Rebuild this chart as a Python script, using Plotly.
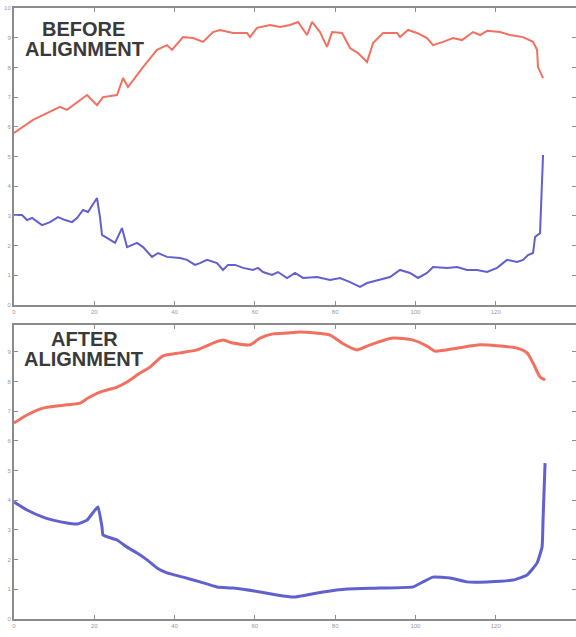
import plotly.graph_objects as go

# ---- data (x in sample index, y in arbitrary units) ----
before_red_x = [0, 4.74, 11.46, 13.20, 18.19, 20.68, 22.17, 25.66, 27.15, 28.40, 32.14, 35.62, 38.11, 39.36,
                42.10, 44.60, 47.09, 49.58, 51.32, 54.56, 58.05, 58.79, 60.54, 63.78, 66.27, 68.76, 70.76,
                73.00, 74.24, 76.24, 77.97, 79.23, 81.72, 83.71, 85.70, 87.94, 89.44, 91.93, 95.42, 96.16,
                98.16, 100.40, 102.89, 104.38, 106.87, 109.37, 111.61, 114.35, 116.10, 117.85, 121.08,
                123.57, 126.81, 129.30, 130.30, 130.54, 131.79]
before_red_y = [5.79, 6.23, 6.67, 6.57, 7.07, 6.73, 7.00, 7.07, 7.64, 7.34, 8.01, 8.59, 8.75, 8.59,
                9.02, 8.99, 8.86, 9.19, 9.26, 9.16, 9.16, 9.02, 9.33, 9.43, 9.36, 9.43, 9.53,
                9.09, 9.53, 9.19, 8.69, 9.19, 9.16, 8.65, 8.48, 8.18, 8.82, 9.16, 9.16, 9.02,
                9.26, 9.16, 8.99, 8.75, 8.86, 8.99, 8.92, 9.19, 9.09, 9.23, 9.19,
                9.09, 9.02, 8.86, 8.59, 8.01, 7.64]

before_blue_x = [0, 2.00, 3.24, 4.49, 6.98, 8.97, 10.96, 12.71, 14.45, 15.70, 17.19, 18.44, 20.68, 21.42,
                 21.92, 23.17, 25.17, 26.90, 28.16, 30.65, 32.14, 34.38, 35.88, 38.11, 41.36, 43.10,
                 45.09, 46.34, 48.08, 50.57, 52.07, 53.31, 55.06, 57.06, 59.54, 60.79, 62.03, 64.27,
                 65.77, 68.02, 70.00, 72.00, 75.49, 78.73, 81.22, 83.71, 86.20, 87.94, 91.18, 93.67,
                 96.16, 98.65, 100.65, 102.89, 104.38, 107.88, 110.37, 112.86, 115.35, 117.85, 120.33,
                 122.82, 125.31, 126.81, 128.05, 129.30, 129.80, 131.04, 131.79]
before_blue_y = [3.03, 3.03, 2.86, 2.93, 2.69, 2.79, 2.96, 2.86, 2.79, 2.93, 3.20, 3.13, 3.60, 2.96,
                 2.36, 2.26, 2.09, 2.59, 1.95, 2.09, 1.95, 1.62, 1.75, 1.62, 1.58, 1.52,
                 1.35, 1.41, 1.52, 1.41, 1.18, 1.35, 1.35, 1.25, 1.18, 1.25, 1.11, 1.01,
                 1.11, 0.91, 1.08, 0.91, 0.94, 0.84, 0.91, 0.77, 0.61, 0.74, 0.84, 0.94,
                 1.18, 1.08, 0.91, 1.08, 1.28, 1.25, 1.28, 1.18, 1.18, 1.11, 1.25,
                 1.52, 1.45, 1.52, 1.68, 1.75, 2.29, 2.42, 5.05]

after_red_x = [0, 3.24, 7.23, 13.20, 16.44, 18.44, 21.42, 25.66, 28.16, 31.39, 33.88, 37.12, 41.36, 45.59,
               49.58, 52.07, 54.56, 58.79, 61.29, 64.52, 68.02, 71.25, 78.73, 81.72, 85.45, 88.70, 94.43,
               99.41, 102.89, 104.89, 110.37, 116.10, 121.08, 125.31, 127.80, 129.30, 131.04, 132.29]
after_red_y = [6.60, 6.87, 7.10, 7.21, 7.27, 7.44, 7.64, 7.81, 7.98, 8.28, 8.48, 8.86, 8.96, 9.06,
               9.29, 9.39, 9.29, 9.23, 9.46, 9.60, 9.63, 9.66, 9.56, 9.29, 9.06, 9.23, 9.46,
               9.39, 9.19, 9.02, 9.12, 9.23, 9.19, 9.12, 8.96, 8.62, 8.15, 8.05]

after_blue_x = [0, 3.24, 7.23, 9.72, 13.20, 15.70, 18.19, 20.18, 20.93, 21.92, 22.17, 25.66, 28.16, 30.65,
                33.14, 35.62, 38.11, 42.10, 46.34, 50.57, 54.56, 61.29, 65.52, 69.51, 71.25, 76.98,
                82.96, 91.18, 99.41, 101.89, 104.38, 108.62, 112.86, 117.85, 124.32, 127.80, 130.30,
                131.54, 131.79, 132.29]
after_blue_y = [3.94, 3.67, 3.43, 3.33, 3.23, 3.20, 3.33, 3.67, 3.77, 3.10, 2.83, 2.66, 2.42, 2.22,
                1.99, 1.72, 1.55, 1.41, 1.25, 1.08, 1.04, 0.91, 0.81, 0.74, 0.77, 0.91,
                1.01, 1.04, 1.08, 1.25, 1.41, 1.38, 1.25, 1.25, 1.31, 1.48, 1.89,
                2.42, 3.33, 5.25]

x_ticks = [0, 20, 40, 60, 80, 100, 120, 140]
y_ticks = [0, 1, 2, 3, 4, 5, 6, 7, 8, 9, 10]

RED = "rgb(242,112,96)"
BLUE = "rgb(96,96,206)"
FRAME = "#8c8c8c"

fig = go.Figure()
fig.add_trace(go.Scatter(x=before_red_x, y=before_red_y, mode="lines", line=dict(color=RED, width=2),
                         xaxis="x", yaxis="y"))
fig.add_trace(go.Scatter(x=before_blue_x, y=before_blue_y, mode="lines", line=dict(color=BLUE, width=2),
                         xaxis="x", yaxis="y"))
fig.add_trace(go.Scatter(x=after_red_x, y=after_red_y, mode="lines",
                         line=dict(color=RED, width=3, shape="spline", smoothing=0.6),
                         xaxis="x2", yaxis="y2"))
fig.add_trace(go.Scatter(x=after_blue_x, y=after_blue_y, mode="lines",
                         line=dict(color=BLUE, width=3, shape="spline", smoothing=0.4),
                         xaxis="x2", yaxis="y2"))

W, H = 576, 637
ML, MR, MT, MB = 14, 0, 8, 18
plot_h = H - MT - MB
top_dom = [(619 - 305) / plot_h, 1.0]
bot_dom = [0.0, (619 - 325) / plot_h]

axis_common = dict(showline=True, linecolor=FRAME, linewidth=2, mirror="ticks", ticks="inside",
                   ticklen=4, tickcolor=FRAME, tickwidth=1, showgrid=False, zeroline=False,
                   automargin=False,
                   tickfont=dict(size=6, color="#9a9a9a", family="Liberation Sans"))

fig.update_layout(
    width=W, height=H,
    margin=dict(l=ML, r=MR, t=MT, b=MB, autoexpand=False),
    paper_bgcolor="white", plot_bgcolor="white",
    showlegend=False,
    xaxis=dict(domain=[0, 1], range=[0, 140], tickvals=x_ticks, anchor="y", **axis_common),
    yaxis=dict(domain=top_dom, range=[0, 10], tickvals=y_ticks, anchor="x", **axis_common),
    xaxis2=dict(domain=[0, 1], range=[0, 140], tickvals=x_ticks, anchor="y2", **axis_common),
    yaxis2=dict(domain=bot_dom, range=[0, (619 - 325) / 29.7], tickvals=y_ticks, anchor="x2", **axis_common),
)


def px_to_paper(px, py):
    return (px - ML) / (W - ML - MR), (H - MB - py) / plot_h


title_font = dict(family="Liberation Sans", size=20, color="#3a3a3a")
for text, px, py in [("<b>BEFORE</b>", 83, 29), ("<b>ALIGNMENT</b>", 84, 49),
                     ("<b>AFTER</b>", 84, 339), ("<b>ALIGNMENT</b>", 83, 359)]:
    ax, ay = px_to_paper(px, py)
    fig.add_annotation(text=text, x=ax, y=ay, xref="paper", yref="paper", showarrow=False,
                       xanchor="center", yanchor="middle", font=title_font)

fig.write_html("out.html", config={"displayModeBar": False},
               post_script="document.body.style.margin='0';document.body.style.overflow='hidden';")
